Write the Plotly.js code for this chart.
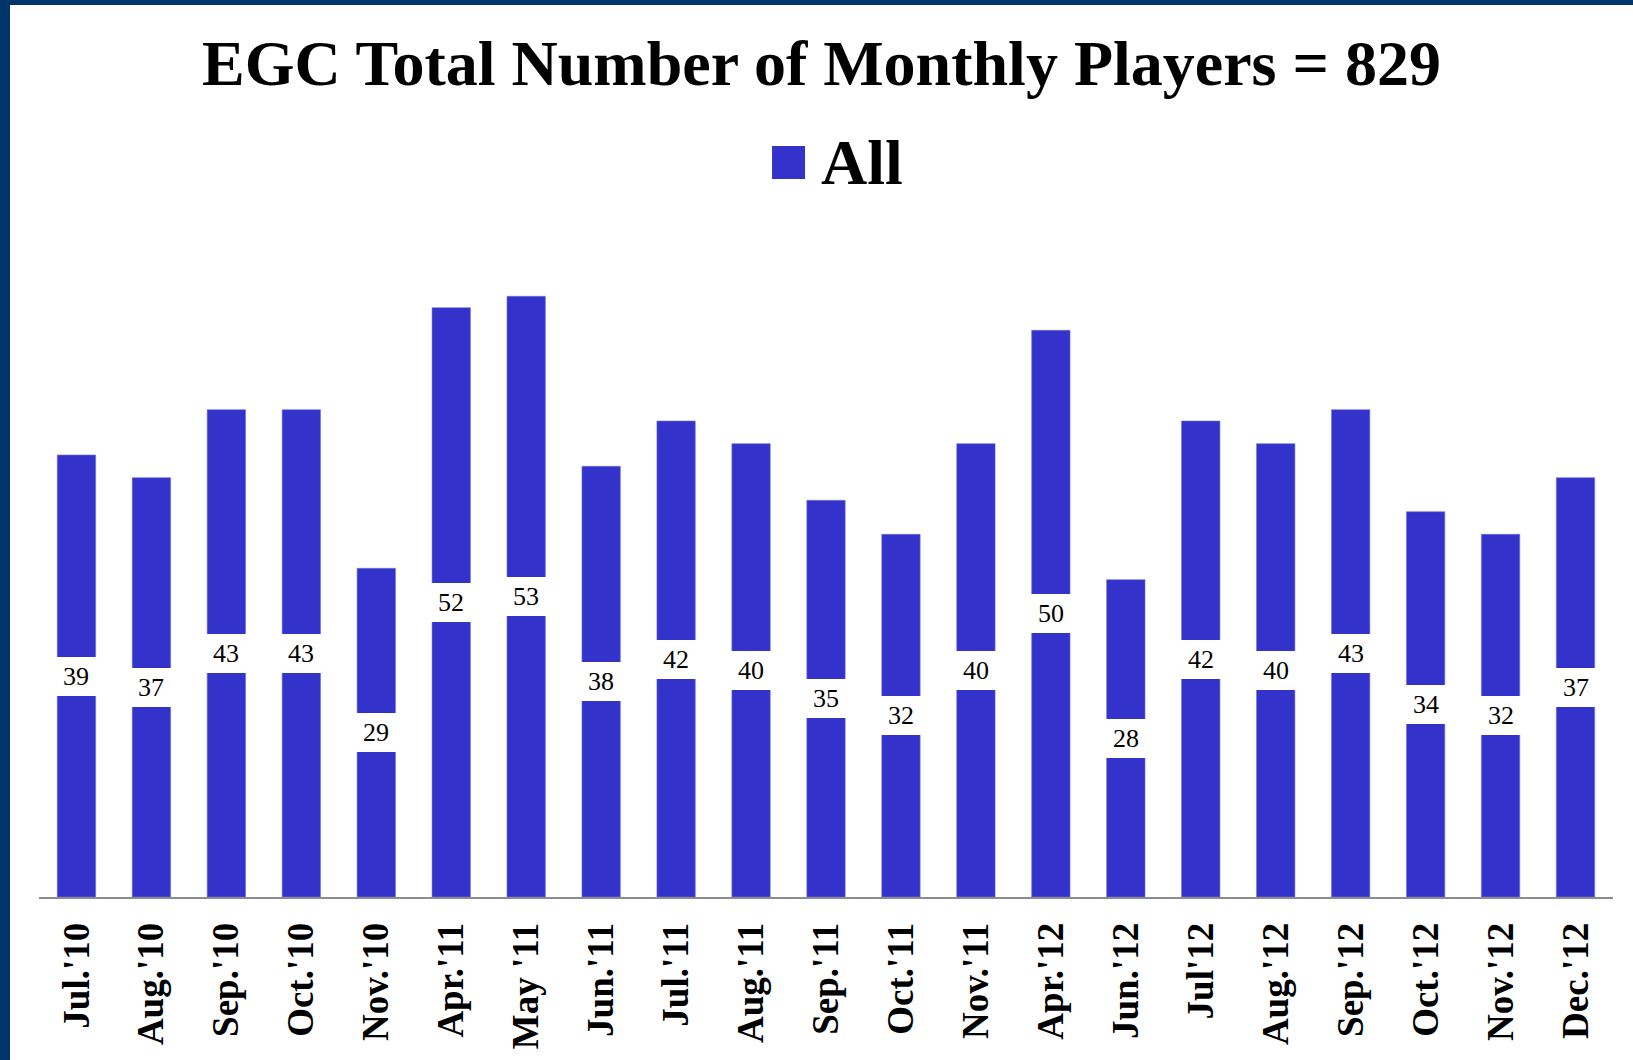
<!DOCTYPE html>
<html>
<head>
<meta charset="utf-8">
<script src="https://cdn.plot.ly/plotly-3.0.1.min.js"></script>
<style>
  html, body { margin: 0; padding: 0; background: #00356b; width: 1633px; height: 1060px; overflow: hidden; }
  #chart { position: absolute; left: 10px; top: 5px; width: 1623px; height: 1055px; background: #ffffff; }
</style>
</head>
<body>
<div id="chart"></div>
<script>
const months = ["Jul.'10", "Aug.'10", "Sep.'10", "Oct.'10", "Nov.'10", "Apr.'11", "May '11", "Jun.'11", "Jul.'11", "Aug.'11", "Sep.'11", "Oct.'11", "Nov.'11", "Apr.'12", "Jun.'12", "Jul'12", "Aug.'12", "Sep.'12", "Oct.'12", "Nov.'12", "Dec.'12"];
const players = [39, 37, 43, 43, 29, 52, 53, 38, 42, 40, 35, 32, 40, 50, 28, 42, 40, 43, 34, 32, 37];
const seriesName = "All";
const totalPlayers = 829;

const barColor = "#3333cc";
const serif = "Liberation Serif, Times New Roman, serif";

const labelAnnotations = months.map((m, i) => ({
  x: m, y: players[i] / 2, xref: "x", yref: "y",
  text: String(players[i]), showarrow: false,
  bgcolor: "#ffffff", width: 42, height: 39, borderpad: 0, borderwidth: 0,
  font: { family: serif, size: 26, color: "#000000" },
  xanchor: "center", yanchor: "middle"
}));

labelAnnotations.push({
  xref: "paper", yref: "paper", x: 0.4956, y: 1.1372,
  xanchor: "left", yanchor: "middle", showarrow: false,
  text: "<b>" + seriesName + "</b>",
  font: { family: serif, size: 64, color: "#000000" }
});

const trace = {
  type: "bar", x: months, y: players, name: seriesName,
  marker: { color: barColor, line: { color: "#6f6fe0", width: 0.6 } },
  hoverinfo: "x+y", showlegend: false
};

const layout = {
  width: 1623, height: 1055,
  margin: { l: 29, r: 20, t: 246, b: 163, pad: 0 },
  paper_bgcolor: "#ffffff", plot_bgcolor: "#ffffff",
  title: {
    text: "<b>EGC Total Number of Monthly Players = " + totalPlayers + "</b>",
    font: { family: serif, size: 64, color: "#000000" },
    x: 0.5, xref: "container", xanchor: "center",
    y: 0.9666, yref: "container", yanchor: "top"
  },
  bargap: 0.488,
  xaxis: {
    type: "category", showgrid: false, zeroline: false,
    showline: true, linecolor: "#8c8c8c", linewidth: 2,
    ticks: "", tickangle: -90, ticklabelstandoff: 9,
    tickfont: { family: serif, size: 37, color: "#000000", weight: "bold" }
  },
  yaxis: {
    range: [0, 57], visible: false, showgrid: false, zeroline: false, fixedrange: true
  },
  shapes: [{
    type: "rect", xref: "paper", yref: "paper",
    xsizemode: "pixel", ysizemode: "pixel",
    xanchor: 0.4762, yanchor: 1.137,
    x0: -16.5, x1: 16.5, y0: -16.5, y1: 16.5,
    fillcolor: barColor, line: { width: 0 }
  }],
  annotations: labelAnnotations,
  showlegend: false
};

Plotly.newPlot("chart", [trace], layout, { displayModeBar: false, staticPlot: true });
</script>
</body>
</html>
